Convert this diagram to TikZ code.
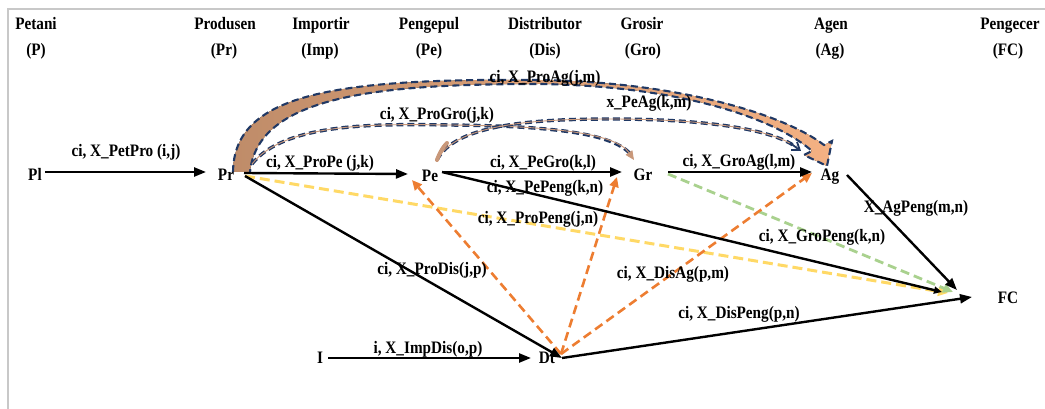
\documentclass[tikz,border=0pt]{standalone}
\usepackage{fontspec}
\setmainfont{Liberation Serif}[FakeStretch=0.87]
\usetikzlibrary{arrows.meta,calc}
\definecolor{navyc}{HTML}{203864}
\definecolor{brownc}{HTML}{BF8C69}
\definecolor{brownm}{HTML}{D9A47E}
\definecolor{brownl}{HTML}{C9987A}
\definecolor{lorange}{HTML}{F4B183}
\definecolor{orangec}{HTML}{ED7D31}
\definecolor{yellowc}{HTML}{FFD966}
\definecolor{greenc}{HTML}{A9D18E}
\definecolor{framec}{HTML}{C8C8C8}
\begin{document}
\begin{tikzpicture}[x=1pt,y=-1pt,
  txt/.style={font=\fontsize{17.5}{20}\selectfont\bfseries, inner sep=0pt, anchor=base},
  blk/.style={draw=black, line width=2.4pt, -{Triangle[length=12pt,width=9pt]}},
  odash/.style={draw=orangec, line width=2.6pt, dash pattern=on 9pt off 5pt, -{Triangle[length=10pt,width=9pt]}},
  ydash/.style={draw=yellowc, line width=3pt, dash pattern=on 10pt off 5pt, -{Triangle[length=10pt,width=9pt]}},
  gdash/.style={draw=greenc, line width=2.8pt, dash pattern=on 9pt off 5pt, -{Triangle[length=10pt,width=9pt]}},
  navdash/.style={draw=navyc, line width=2.1pt, dash pattern=on 7pt off 4pt},
  bandnav/.style={draw=navyc, line width=3.4pt, dash pattern=on 7pt off 4pt},
  bandfill/.style={draw=brownl, line width=0.9pt}
]
\useasboundingbox (0,0) rectangle (1045,409);
\draw[framec, line width=1.5pt] (8,409) -- (8,9) -- (1045,9);

% headers
\node[txt] (hP)   at (36,30)  {Petani};
\node[txt] (hPs)  at (36,56)  {(P)};
\node[txt] (hPr)  at (225,30) {Produsen};
\node[txt] (hPrs) at (224,56) {(Pr)};
\node[txt] (hIm)  at (321,30) {Importir};
\node[txt] (hIms) at (320,56) {(Imp)};
\node[txt] (hPe)  at (429,30) {Pengepul};
\node[txt] (hPes) at (429,56) {(Pe)};
\node[txt] (hDi)  at (545,30) {Distributor};
\node[txt] (hDis) at (545,56) {(Dis)};
\node[txt] (hGr)  at (642,30) {Grosir};
\node[txt] (hGrs) at (643,56) {(Gro)};
\node[txt] (hAg)  at (831,30) {Agen};
\node[txt] (hAgs) at (830,56) {(Ag)};
\node[txt] (hFC)  at (1010,30) {Pengecer};
\node[txt] (hFCs) at (1008,56) {(FC)};

% ports
\coordinate (PlR) at (45,172);
\coordinate (PrL) at (206,172);
\coordinate (PrR) at (244,173);
\coordinate (PrR2) at (245,176);
\coordinate (PeL) at (408,174);
\coordinate (PeR) at (442,172);
\coordinate (PeL2) at (412,180);
\coordinate (GrL) at (622,172);
\coordinate (GrL2) at (617,177);
\coordinate (GrR) at (668,172);
\coordinate (GrR2) at (668,174);
\coordinate (AgL) at (812,172);
\coordinate (AgL2) at (812,173);
\coordinate (AgR) at (847,175);
\coordinate (FCa) at (942,292);
\coordinate (FCb) at (948,293);
\coordinate (FCc) at (953,292);
\coordinate (FCd) at (957,290);
\coordinate (FCe) at (972,297);
\coordinate (IR) at (328,358);
\coordinate (DtL) at (531,358);
\coordinate (DtT) at (562,358);
\coordinate (DtO) at (561,354);

% arc Pr -> Ag (wide curved arrow)
\fill[left color=brownc, middle color=brownm, right color=lorange]
  (233,172) .. controls (234,95) and (330,78) .. (540,80)
  .. controls (680,82) and (785,115) .. (824,145) -- (832,141) -- (827,166) -- (804,155) -- (812,151)
  .. controls (777,120) and (685,86) .. (540,84)
  .. controls (380,84) and (258,95) .. (250,172) -- cycle;
\draw[navdash]
  (233,172) .. controls (234,95) and (330,78) .. (540,80)
  .. controls (680,82) and (785,115) .. (824,145) -- (832,141) -- (827,166) -- (804,155) -- (812,151)
  .. controls (777,120) and (685,86) .. (540,84)
  .. controls (380,84) and (258,95) .. (250,172);

% arc Pr -> Gr
\draw[bandnav] (252,164) .. controls (285,122) and (380,124) .. (450,125) .. controls (545,126) and (615,132) .. (632,156);
\draw[bandfill, -{Triangle[length=9pt,width=8pt]}] (252,164) .. controls (285,122) and (380,124) .. (450,125) .. controls (545,126) and (615,132) .. (634,160);

% arc Pe -> Ag
\draw[bandnav] (437,160) .. controls (455,125) and (530,119) .. (610,119) .. controls (700,119) and (770,128) .. (796,147);
\draw[bandfill] (437,160) .. controls (455,125) and (530,119) .. (610,119) .. controls (700,119) and (770,128) .. (796,147);
\draw[brownl, line width=4pt, line cap=round] (437,160) .. controls (440,152) and (443,147) .. (447,143);
\draw[navyc, line width=1.8pt, -{Straight Barb[length=7pt,width=10pt]}] (790,143) -- (801,151);

% dashed coloured connectors
\draw[ydash] (PrR2) -- (FCb);
\draw[gdash] (GrR2) -- (FCc);
\draw[odash] (DtO) -- (PeL2);
\draw[odash] (DtO) -- (GrL2);
\draw[odash] (DtO) -- (AgL2);

% black connectors
\draw[blk] (PlR) -- (PrL);
\draw[blk] (PrR) -- (PeL);
\draw[blk] (PeR) -- (GrL);
\draw[blk] (GrR) -- (AgL);
\draw[blk] (PrR2) -- (DtT);
\draw[blk] (IR) -- (DtL);
\draw[blk] (DtT) -- (FCe);
\draw[blk, -{Triangle[length=8pt,width=7pt]}] (PeR) -- (FCa);
\draw[blk] (AgR) -- (FCd);

% nodes
\node[txt] (Pl) at (35,181)  {Pl};
\node[txt] (Pr) at (226,181) {Pr};
\node[txt] (Pe) at (430,182) {Pe};
\node[txt] (Gr) at (643,181) {Gr};
\node[txt] (Ag) at (830,181) {Ag};
\node[txt] (FC) at (1008,303) {FC};
\node[txt] (I)  at (320,363) {I};
\node[txt] (Dt) at (547,363) {Dt};

% labels
\node[txt] (l1)  at (126,157) {ci, X\_PetPro (i,j)};
\node[txt] (l2)  at (320,168) {ci, X\_ProPe (j,k)};
\node[txt] (l3)  at (437,120) {ci, X\_ProGro(j,k)};
\node[txt] (l4)  at (545,83)  {ci, X\_ProAg(j,m)};
\node[txt] (l5)  at (649,108) {x\_PeAg(k,m)};
\node[txt] (l6)  at (543,168) {ci, X\_PeGro(k,l)};
\node[txt] (l7)  at (545,193) {ci, X\_PePeng(k,n)};
\node[txt] (l8)  at (538,223) {ci, X\_ProPeng(j,n)};
\node[txt] (l9)  at (432,274) {ci, X\_ProDis(j,p)};
\node[txt] (l10) at (428,353) {i, X\_ImpDis(o,p)};
\node[txt] (l11) at (739,167) {ci, X\_GroAg(l,m)};
\node[txt] (l12) at (916,212) {X\_AgPeng(m,n)};
\node[txt] (l13) at (822,241) {ci, X\_GroPeng(k,n)};
\node[txt] (l14) at (673,278) {ci, X\_DisAg(p,m)};
\node[txt] (l15) at (739,318) {ci, X\_DisPeng(p,n)};
\end{tikzpicture}
\end{document}
